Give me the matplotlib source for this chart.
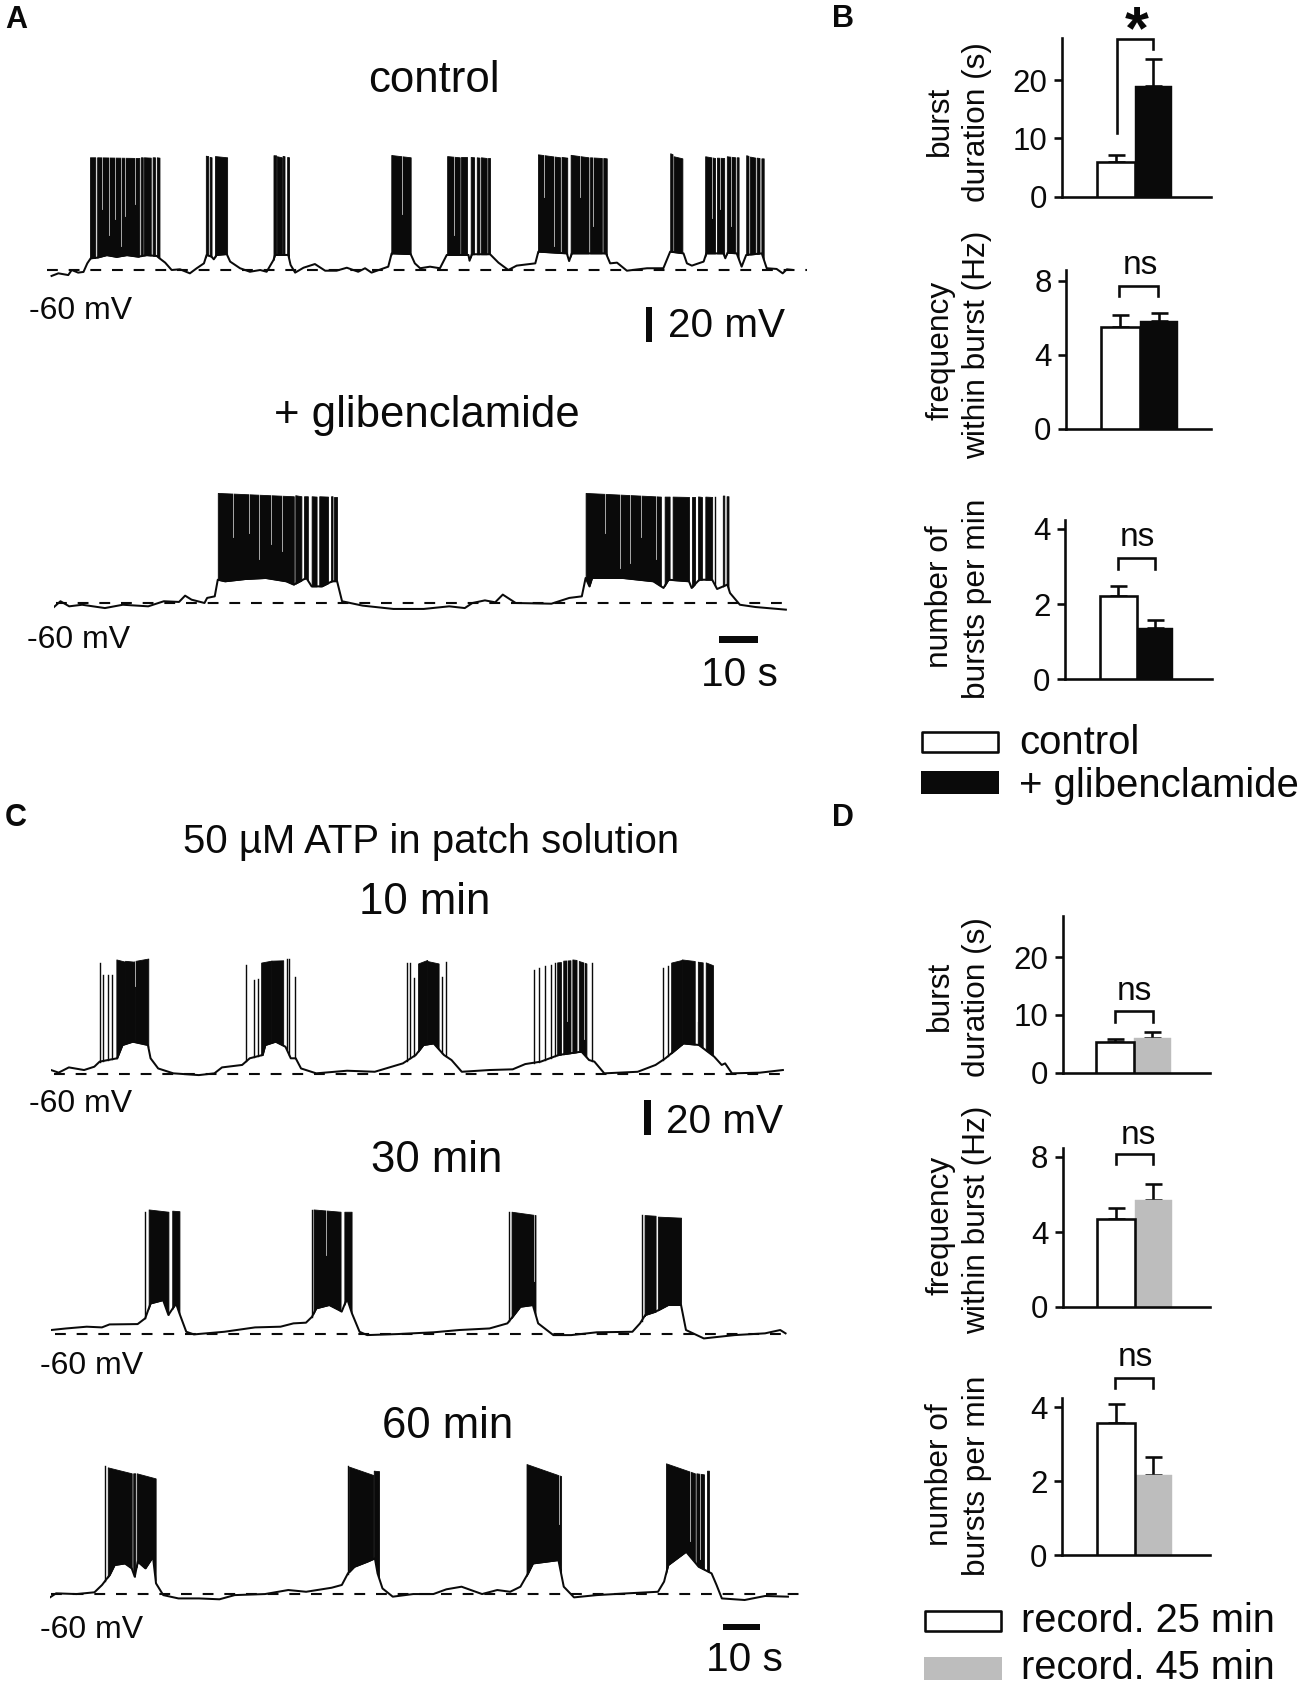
#!/usr/bin/python3 -B

import matplotlib
matplotlib.use('Agg')
import matplotlib.pyplot as plt
import numpy as np

plt.rcParams['font.family'] = ['Liberation Sans', 'DejaVu Sans']

W, H = 1300, 1685
PX = 0.72  # points per pixel at dpi 100
BLACK = '#0a0a0a'
GREY = '#bdbdbd'

# --- panel A, control trace: slow potential (s, mV), solid burst blocks
# (start, end, top at start, top at end), lone spikes (s, top), pale slits (s, depth)
ctrl_t = [1.2, 3.0, 5.6, 6.5, 8.2, 9.6, 10.6, 11.5, 13.1, 15.7, 18.3, 21, 24, 26.2, 28.9, 29.6, 31.1, 32.8, 35, 37.6,
	39.4, 41.3, 42, 43.3, 43.9, 44.6, 47.3, 48.2, 50.8, 53.4, 56.1, 57.8, 59.6, 60, 63.5, 64.1, 65.3, 67.5, 70.5, 73.2,
	76.2, 78.9, 81.9, 83.7, 85.4, 88.1, 89.8, 90.7, 95.7, 96.8, 98.2, 100.8, 103.4, 105.2, 110.9, 111.2, 111.8, 116.6,
	118.8, 121.4, 123.6, 128.5, 129.3, 136.8, 137.4, 138.1, 147.1, 148.2, 150, 152.6, 157.9, 162.2, 164, 167.5, 168.4,
	169.7, 172.8, 173.5, 178, 178.5, 179.1, 181.5, 182.8, 184, 188.1, 189.4, 192, 193.6, 194.7, 196]
ctrl_v = [-63.4, -61.9, -62.9, -60, -61.5, -61.1, -56.2, -53.3, -53, -51.5, -52.5, -51.5, -52.4, -51.5, -52, -53.3,
	-55.8, -60, -59.6, -61.9, -59, -56.2, -51.4, -52.4, -53.9, -51.4, -50.9, -55.2, -59, -61, -60, -61, -54.3, -51.4,
	-51.4, -57.1, -61.5, -58.7, -56.6, -60.4, -60.4, -58.7, -61, -59, -61.5, -59.4, -58.1, -50.5, -50.9, -56.2, -59,
	-58.1, -59, -51.4, -51.4, -54.7, -51, -51, -55.8, -60, -57.5, -56.2, -49.5, -50.5, -54.9, -50.5, -50.5, -56.2,
	-55.8, -60.4, -59, -59, -49.5, -50.5, -56.2, -57.5, -55.2, -50.5, -50.5, -53.3, -50.1, -50.5, -58.1, -51.4, -50.5,
	-59, -59.4, -61.9, -59.6, -59.9]
ctrl_blocks = [(11.3, 12.7, 4.4, 4.4), (13.2, 24.3, 4.4, 4.0), (24.7, 25.2, 4.4, 4.4), (25.5, 27.3, 4.4, 4.2),
	(27.8, 28.4, 4.4, 4.4), (28.9, 29.6, 4.4, 4.2), (41.8, 42.4, 5.3, 5.1), (42.8, 43.3, 4.6, 4.4), (44.2, 47.4, 5.1, 4.4),
	(59.6, 60.3, 5.6, 5.5), (60.5, 61.8, 5.0, 4.4), (62, 62.5, 5.2, 5.0), (63.2, 63.7, 4.6, 4.4), (90.6, 95.7, 5.7, 4.4),
	(105.3, 108.6, 5.1, 4.4), (108.9, 110.5, 4.4, 4.4), (111.5, 112.4, 4.6, 4.4), (113.1, 113.8, 4.4, 4.2),
	(114.2, 115.7, 4.4, 4.0), (116, 116.6, 3.8, 3.8), (129.2, 135, 6.1, 4.4), (135.4, 136.9, 4.6, 4.2),
	(137.8, 142.5, 5.8, 4.4), (142.9, 146, 4.4, 4.0), (146.4, 147.3, 4.0, 3.8), (164, 164.6, 6.7, 6.2),
	(164.9, 167.2, 5.0, 3.8), (173.2, 175.8, 5.0, 4.0), (176.3, 178.2, 4.2, 4.0), (178.9, 181.1, 5.0, 4.4),
	(181.5, 182, 4.4, 4.4), (184, 184.6, 5.6, 5.2), (185, 186.4, 4.8, 4.2), (186.8, 187.5, 4.2, 4.0), (188, 188.6, 3.8, 3.8)]
ctrl_spikes = []
ctrl_slits = [(14.5, -25), (16.2, -40), (17.9, -31), (19.4, -46), (20.5, -29), (23.2, -22), (93.5, -28), (107.2, -40),
	(130.7, -18), (133.3, -46), (140.3, -18), (143.8, -35), (175, -30), (177, -25), (180, -35)]

# --- panel A, glibenclamide trace
gli_t = [0, 1.7, 4, 7.4, 13.4, 18.1, 24.8, 28.9, 32.9, 34.5, 36.2, 39.6, 40.3, 42.3, 43.1, 45, 50.3, 55.7, 61.1, 63.1,
	66.4, 67.8, 70.5, 73.2, 74.5, 75.8, 81.2, 89.3, 97.3, 104, 108.1, 110.1, 113.4, 116.1, 118.1, 121.5, 130.9, 135.6,
	138.9, 139.9, 140.9, 141.6, 149.7, 157.7, 160.4, 161.7, 167.1, 167.8, 169.8, 173.2, 174.5, 177.2, 177.9, 180.5, 184.6, 192.6]
gli_v = [-62.3, -59, -61.9, -61, -62.9, -61, -61.9, -59, -59.4, -55.8, -58.1, -60, -57.1, -56.2, -46.7, -47.6, -46.3, -45.7,
	-47.6, -49.5, -45.7, -50.5, -50.5, -47.6, -47.6, -59, -61.5, -63.4, -63.4, -61.9, -62.9, -60, -58.5, -59.6, -55.2, -60,
	-60.4, -57.1, -56.2, -45.7, -50.5, -45.7, -45.7, -47.6, -51.4, -46.7, -47.6, -51.4, -46.7, -46.7, -52, -49.5, -54.3,
	-61, -62.3, -63.8]
gli_blocks = [(43.1, 63.1, 2.9, 1.0), (63.5, 65.1, 1.6, 1.0), (65.8, 66.8, 1.0, 1.0), (67.8, 69.1, 1.0, 0.8), (69.8, 72.1, 1.0, 0.8),
	(72.9, 73.3, 1.0, 1.0), (73.7, 74.5, 0.8, 0.8), (139.9, 159.7, 2.9, 0.8), (160.7, 162, 0.8, 0.8), (162.8, 167.1, 0.8, 0.6),
	(167.9, 168.7, 0.6, 0.6), (169.5, 170.5, 0.9, 0.6), (171.4, 173.2, 0.8, 0.6), (176, 176.4, 1.4, 1.4), (177, 177.5, 1.0, 1.0)]
gli_spikes = [(173.9, 0.6)]
gli_slits = [(47, -22), (51.3, -20), (54, -35), (57, -26), (60, -30), (145, -20), (149, -40), (151.7, -37), (154.4, -22), (158.5, -35)]

# --- panel C, 10 min
m10_t = [0, 2, 4.7, 8.7, 11.4, 12.8, 17.4, 18.8, 21.5, 25.5, 26.2, 28.2, 32.2, 38.9, 43, 45, 50.3, 52.3, 55.7, 56.4, 59.1,
	61.7, 63.1, 64.4, 65.8, 69.8, 77.9, 85.2, 92.6, 96, 98, 100.7, 103.4, 105.4, 108.1, 115.4, 121.5, 124.8, 128.9, 133.6,
	139.6, 141.6, 143, 145.6, 154.4, 159.1, 161.7, 166.4, 170.5, 174.5, 176.5, 177.4, 179.2, 186.6, 192.6]
m10_v = [-57.9, -59.4, -56.4, -57.9, -56, -53.1, -51.2, -43.6, -41.7, -43.6, -51.2, -57, -59.8, -60.8, -59.8, -56.4, -55,
	-51.2, -49.3, -43.6, -41.7, -44.6, -51.2, -51.2, -57, -59.8, -58.3, -58.9, -54.1, -49.3, -43.6, -42.7, -49.3, -52.2,
	-58.9, -57.9, -57.5, -54.5, -53.1, -49.3, -47.4, -52.2, -53.1, -59.8, -58.9, -55, -51.2, -42.7, -43.6, -50.2, -55,
	-54.1, -59.8, -59.4, -57.9]
m10_blocks = [(17.2, 19.5, 5.3, 4.0), (19.5, 22, 4.5, 4.0), (22, 25.6, 4.4, 5.8), (55.3, 58, 3.5, 4.6), (58, 61.1, 4.6, 4.8),
	(96.6, 99, 3.0, 5.0), (99, 102, 4.4, 3.0), (133.2, 134.2, 3.6, 3.8),
	(134.8, 136.7, 4.6, 4.8), (137.2, 138.3, 5.3, 5.0), (138.9, 140.9, 4.4, 3.0), (163.2, 166, 3.5, 5.0), (166, 169.4, 5.3, 4.4), (170.2, 171.5, 4.0, 3.6), (172.3, 174.2, 3.6, 2.0)]
m10_spikes = [(12.8, 3), (13.8, -3.6), (14.9, -3.6), (16.1, -3.6), (51.4, 2.1), (53.4, -6.5), (54.5, -6), (62, 5.5), (62.7, 5.5),
	(64.2, -4.6), (93.6, 3), (94.6, 3), (95.6, -5.5), (103, -4.6), (104, 4), (127.2, -0.8), (128.5, 0.2), (129.9, 1.5), (131.5, 2),
	(132.6, 3), (142.3, 3), (161.1, 0.2), (162.4, 1.5)]
m10_slits = [(22, -10), (135.9, -30), (140.3, -40), (169.9, -30)]

# --- panel C, 30 min
m30_t = [0, 4, 9.4, 13.4, 15.4, 22.8, 24.8, 26.2, 29.5, 30.9, 32.9, 33.8, 35.6, 37.6, 45.6, 53.7, 60.4, 63.8, 67.1, 68.7, 69.8,
	73.2, 75.8, 76.5, 77.9, 79.2, 81.2, 83.2, 91.3, 100.7, 107.4, 115.4, 120.1, 121.5, 123.5, 126.8, 128.2, 132.2, 136.9,
	143.6, 153, 155, 156.4, 159.1, 162.4, 165.8, 167.1, 171.8, 179.9, 187.9, 191.9, 193.3]
m30_v = [-57.9, -57, -56, -56.4, -54.7, -54.5, -51.2, -42.7, -40.8, -49.3, -42.7, -48.4, -58.9, -60.4, -58.9, -56.4, -56, -54.1,
	-53.7, -50.3, -45.5, -43.6, -46.5, -47.4, -39.8, -48.4, -58.9, -60.8, -60.2, -59.2, -57.9, -57, -54.1, -50.3, -44.6, -43.6,
	-54.1, -60.8, -60.8, -59.2, -58.9, -54.1, -49.3, -47.4, -43.6, -43.6, -57.9, -62.7, -60.8, -59.8, -57.9, -59.8]
m30_blocks = [(25.7, 30.9, 11, 9.7), (31.9, 33.8, 10.3, 10), (69.1, 76.2, 11, 9.7), (77.2, 79.1, 9.7, 9.7),
	(121.2, 127.5, 9.7, 7.8), (156.2, 159.1, 7.8, 7.4), (159.7, 165.8, 6.9, 6.3)]
m30_spikes = [(24.8, 9.7), (68.6, 10.7), (120.5, 9.7), (155.4, 7.8)]
m30_slits = [(72.5, -15), (127, -30)]

# --- panel C, 60 min
m60_t = [0, 1.6, 7, 11.7, 13.7, 15.7, 17, 19.7, 21.5, 22.3, 23.1, 25.1, 27.1, 27.9, 29.8, 33.8, 39.2, 44.6, 48.6, 56.6, 62.7,
	67.4, 74.1, 76.8, 78.4, 80.1, 83.5, 85.5, 86.2, 87.5, 90.2, 95.6, 100.9, 104.3, 108.3, 113.7, 117.7, 121.1, 123.8, 125.8,
	127.1, 133.8, 135.2, 137.9, 143.9, 151.9, 160, 161.6, 162.7, 167.4, 170.7, 174.1, 175.4, 176.8, 182.8, 188.2, 194.2]
m60_v = [-62.1, -59.8, -60.2, -59.2, -55, -49.3, -43.6, -42.7, -45.5, -50.3, -41.7, -45.5, -38.9, -54.1, -60.8, -62.7, -62.7,
	-63.2, -60.8, -60.2, -57.9, -58.9, -56.6, -55, -48.4, -44.6, -41.7, -39.8, -48.4, -57, -61.7, -60.2, -60.2, -57.5, -56,
	-60.2, -57.9, -58.9, -56, -48.4, -42.7, -40.8, -56, -62.1, -60.8, -59.8, -58.9, -53.1, -43.6, -36, -44.6, -48.4, -55,
	-62.7, -63.6, -61.3, -61.7]
m60_blocks = [(15.2, 21.5, 12.2, 8.8), (21.9, 22.4, 8.8, 8.8), (22.8, 27.8, 8.8, 5.9), (78.7, 85.1, 12.6, 7.8), (85.2, 86.6, 10.3, 10),
	(125.4, 134.5, 14.1, 7.2), (162.1, 169.7, 14.5, 8.8), (170.1, 172.1, 8.8, 8.2), (172.9, 173.4, 10.3, 10.3)]
m60_spikes = [(14.5, 13), (78.3, 13)]
m60_slits = [(134.0, -20), (168.5, -30), (171, -40)]

# --- bar panels: (first bar, second bar)
b_duration, b_duration_hi = [6.0, 19.0], [7.1, 23.6]
b_freq, b_freq_hi = [5.5, 5.84], [6.16, 6.27]
b_rate, b_rate_hi = [2.21, 1.36], [2.48, 1.57]
d_duration, d_duration_hi = [5.3, 6.0], [5.9, 7.0]
d_freq, d_freq_hi = [4.69, 5.7], [5.27, 6.55]
d_rate, d_rate_hi = [3.58, 2.16], [4.08, 2.65]

ticks_duration = [0, 10, 20]
ticks_freq = [0, 4, 8]
ticks_rate = [0, 2, 4]

fig = plt.figure(figsize=(W / 100, H / 100), dpi=100, facecolor='white')

# overlay in pixel coordinates for labels and scale bars
ov = fig.add_axes([0, 0, 1, 1], zorder=5)
ov.set_xlim(0, W)
ov.set_ylim(H, 0)
ov.axis('off')
ov.patch.set_alpha(0)


def label(x, y, s, size, ha='center', va='center', **kw):
	# +3: centred text sits a little high against the reference
	ov.text(x, y + 3, s, fontsize=size, ha=ha, va=va, color=BLACK, **kw)


def side_label(x, y, s):
	ov.text(x, y, s, fontsize=22.8, rotation=90, ha='center', va='baseline', rotation_mode='anchor', color=BLACK)


def draw_trace(x0, y60, dash, t, v, blocks, spikes, slits):
	"""x0: pixel of t=0, y60: pixel of -60 mV. 10 s = 38 px, 20 mV = 35 px"""
	sec, mv = 3.8, 1.75
	ax = fig.add_axes([x0 / W, 1 - (y60 + 10 * mv) / H, 205 * sec / W, 90 * mv / H])
	ax.set_xlim(0, 205)
	ax.set_ylim(-70, 20)
	ax.axis('off')
	ax.plot(dash, [-60, -60], color=BLACK, lw=1.5, dashes=(5.2, 5.2))
	ax.plot(t, v, color=BLACK, lw=1.45, solid_joinstyle='round')
	for t0, t1, top0, top1 in blocks:
		inner = [x for x in t if t0 < x < t1]
		xs = np.array([t0] + inner + [t1])
		ax.fill_between(xs, np.interp(xs, t, v), np.interp(xs, [t0, t1], [top0, top1]),
			color=BLACK, lw=0.6)
	for st, top in spikes:
		ax.plot([st, st], [np.interp(st, t, v), top], color=BLACK, lw=1.0)
	for st, depth in slits:
		ax.plot([st, st], [depth, 16], color='white', lw=0.6, alpha=0.75)


def draw_bars(left, right, base, top, y2, ytick2, bar_left, bar_w, vals, highs, yticks, second, bracket, ns):
	"""left/right/base/top: axis box in pixels; y2: pixel height of ytick2"""
	per_unit = (base - y2) / ytick2
	ax = fig.add_axes([left / W, 1 - base / H, (right - left) / W, (base - top) / H])
	ax.set_ylim(0, (base - top) / per_unit)
	ax.set_xlim((left - bar_left) / bar_w - 0.5, (right - bar_left) / bar_w - 0.5)
	ax.patch.set_alpha(0)
	for sp in ('top', 'right'):
		ax.spines[sp].set_visible(False)
	for sp in ('left', 'bottom'):
		ax.spines[sp].set_linewidth(2.6 * PX)
		ax.spines[sp].set_color(BLACK)
	ax.set_xticks([])
	ax.set_yticks(yticks)
	ax.tick_params(axis='y', length=8.5 * PX, width=2.6 * PX, pad=6 * PX, labelsize=22.5, color=BLACK, labelcolor=BLACK)
	ax.errorbar([0, 1], vals, yerr=[[0, 0], [h - m for h, m in zip(highs, vals)]], fmt='none', ecolor=BLACK,
		elinewidth=2.6 * PX, capsize=8.5 * PX, capthick=2.6 * PX, zorder=1)
	ax.bar([0], vals[:1], width=1, facecolor='white', edgecolor=BLACK, linewidth=2.6 * PX, zorder=3)
	ax.bar([1], vals[1:], width=1, facecolor=second, edgecolor=second, linewidth=0.3, zorder=2)
	x0, x1, ytop, ybot0, ybot1 = bracket
	ov.plot([x0, x0, x1, x1], [ybot0, ytop, ytop, ybot1], color=BLACK, lw=2.6 * PX, solid_joinstyle='miter')
	if ns:
		label(ns[0], ns[1], 'ns', 24)


# panel letters
for letter, x, y in [('A', 5, 17), ('B', 832, 16), ('C', 5, 815), ('D', 832, 815)]:
	label(x, y, letter, 22, ha='left', fontweight='bold')

# panel A
label(434, 78, 'control', 31.5)
label(427, 412, '+ glibenclamide', 31.5)
draw_trace(47, 270, [0, 200], ctrl_t, ctrl_v, ctrl_blocks, ctrl_spikes, ctrl_slits)
draw_trace(54, 603, [0.4, 192.6], gli_t, gli_v, gli_blocks, gli_spikes, gli_slits)
label(81, 308, '-60 mV', 23)
label(79, 637, '-60 mV', 23)
ov.fill_between([646, 652], 307, 342, color=BLACK, lw=0)
label(726, 323, '20 mV', 29.2)
ov.fill_between([719, 758], 636, 643, color=BLACK, lw=0)
label(739, 672, '10 s', 29.2)

# panel C
label(431, 839, '50 µM ATP in patch solution', 28.9)
label(425, 900, '10 min', 31.5)
label(437, 1158, '30 min', 31.5)
label(448, 1423, '60 min', 31.5)
draw_trace(51, 1073.7, [0.7, 192.6], m10_t, m10_v, m10_blocks, m10_spikes, m10_slits)
draw_trace(51, 1333.7, [1, 193.3], m30_t, m30_v, m30_blocks, m30_spikes, m30_slits)
draw_trace(50, 1593.7, [0.3, 197.3], m60_t, m60_v, m60_blocks, m60_spikes, m60_slits)
label(81, 1101, '-60 mV', 23)
label(92, 1363, '-60 mV', 23)
label(92, 1627, '-60 mV', 23)
ov.fill_between([644, 651], 1100, 1135, color=BLACK, lw=0)
label(724, 1119, '20 mV', 29.2)
ov.fill_between([723, 760], 1624, 1630, color=BLACK, lw=0)
label(744, 1657, '10 s', 29.2)

# panel B
draw_bars(1062, 1211, 197, 38, 80, 20, 1097, 37.5, b_duration, b_duration_hi, ticks_duration, BLACK, (1117, 1153, 39, 133, 49), None)
label(1137, 30, '*', 44, fontweight='bold')
draw_bars(1066, 1211, 429, 270, 281, 8, 1101, 38.5, b_freq, b_freq_hi, ticks_freq, BLACK, (1119, 1158, 286, 296, 296), (1140, 263))
draw_bars(1065, 1212, 679, 520, 529, 4, 1100, 36.5, b_rate, b_rate_hi, ticks_rate, BLACK, (1118, 1155, 558, 569, 569), (1137, 535))

side_label(948, 121, 'burst')
side_label(985, 122, 'duration (s)')
side_label(948, 350, 'frequency')
side_label(985, 345, 'within burst (Hz)')
side_label(948, 597, 'number of')
side_label(985, 599, 'bursts per min')

ov.fill_between([922, 998], 732, 752, facecolor='white', edgecolor=BLACK, lw=2.6 * PX)
ov.fill_between([921, 999], 771, 794, color=BLACK, lw=0)
label(1019, 740, 'control', 28.9, ha='left')
label(1019, 783, '+ glibenclamide', 28.9, ha='left')

# panel D
draw_bars(1063, 1210, 1073, 916, 957, 20, 1096, 37.5, d_duration, d_duration_hi, ticks_duration, GREY, (1115, 1153, 1011, 1022, 1022), (1134, 988))
draw_bars(1063, 1210, 1307, 1148, 1157, 8, 1097, 37.5, d_freq, d_freq_hi, ticks_freq, GREY, (1116, 1153, 1154, 1164, 1164), (1138, 1132))
draw_bars(1062, 1210, 1555, 1398, 1407, 4, 1097, 37.5, d_rate, d_rate_hi, ticks_rate, GREY, (1115, 1153, 1378, 1388, 1388), (1135, 1355))

side_label(948, 996, 'burst')
side_label(985, 997, 'duration (s)')
side_label(948, 1225, 'frequency')
side_label(985, 1220, 'within burst (Hz)')
side_label(948, 1475, 'number of')
side_label(985, 1476, 'bursts per min')

ov.fill_between([925, 1001], 1611, 1631, facecolor='white', edgecolor=BLACK, lw=2.6 * PX)
ov.fill_between([924, 1002], 1657, 1680, color=GREY, lw=0)
label(1021, 1618, 'record. 25 min', 28.6, ha='left')
label(1021, 1665, 'record. 45 min', 28.6, ha='left')

ov.set_xlim(0, W)
ov.set_ylim(H, 0)
fig.savefig('out.png', dpi=100)
